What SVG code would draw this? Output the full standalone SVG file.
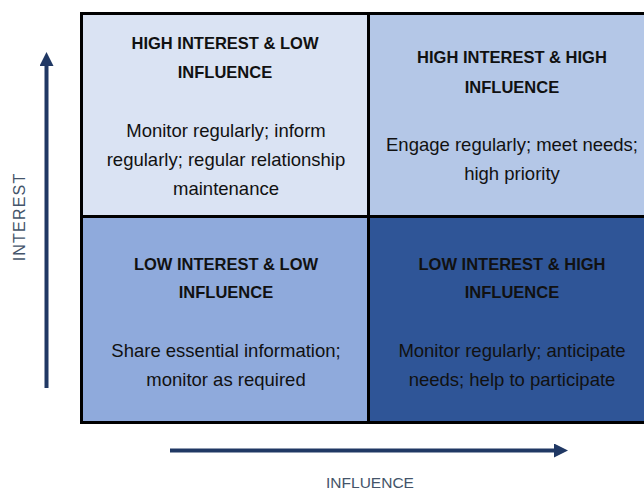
<svg xmlns="http://www.w3.org/2000/svg" width="644" height="491" viewBox="0 0 644 491">
<defs>
<style>
.cell{stroke:#000;stroke-width:3}
.h{font-family:"Liberation Sans",Arial,sans-serif;font-weight:bold;font-size:16.5px;fill:#111;text-anchor:middle}
.b{font-family:"Liberation Sans",Arial,sans-serif;font-size:18.5px;fill:#111;text-anchor:middle}
.ax{font-family:"Liberation Sans",Arial,sans-serif;fill:#44546a;text-anchor:middle}
.arr{stroke:#203864;stroke-width:4;fill:none}
</style>
<marker id="ah" viewBox="0 0 14 14" refX="2" refY="7" markerWidth="14" markerHeight="14" markerUnits="userSpaceOnUse" orient="auto">
<path d="M0,0 L14,7 L0,14 Z" fill="#203864"/>
</marker>
</defs>
<rect width="644" height="491" fill="#fff"/>
<g id="q-high-low">
<rect class="cell" x="81.5" y="13.5" width="287" height="203" fill="#dae3f3"/>
<text class="h" x="225" y="49">HIGH INTEREST &amp; LOW</text>
<text class="h" x="225" y="78">INFLUENCE</text>
<text class="b" x="226" y="137">Monitor regularly; inform</text>
<text class="b" x="226" y="166">regularly; regular relationship</text>
<text class="b" x="226" y="195">maintenance</text>
</g>
<g id="q-high-high">
<rect class="cell" x="368.5" y="13.5" width="290" height="203" fill="#b4c7e7"/>
<text class="h" x="512" y="63">HIGH INTEREST &amp; HIGH</text>
<text class="h" x="512" y="93">INFLUENCE</text>
<text class="b" x="512" y="151">Engage regularly; meet needs;</text>
<text class="b" x="512" y="180">high priority</text>
</g>
<g id="q-low-low">
<rect class="cell" x="81.5" y="216.5" width="287" height="206" fill="#8faadc"/>
<text class="h" x="226" y="270">LOW INTEREST &amp; LOW</text>
<text class="h" x="226" y="298">INFLUENCE</text>
<text class="b" x="226" y="357">Share essential information;</text>
<text class="b" x="226" y="386">monitor as required</text>
</g>
<g id="q-low-high">
<rect class="cell" x="368.5" y="216.5" width="290" height="206" fill="#2f5597"/>
<text class="h" x="512" y="270">LOW INTEREST &amp; HIGH</text>
<text class="h" x="512" y="298">INFLUENCE</text>
<text class="b" x="512" y="357">Monitor regularly; anticipate</text>
<text class="b" x="512" y="386">needs; help to participate</text>
</g>
<g id="connectors">
<line class="arr" x1="46.5" y1="388" x2="46.5" y2="64" marker-end="url(#ah)"/>
<line class="arr" x1="170" y1="450.5" x2="556" y2="450.5" marker-end="url(#ah)"/>
</g>
<g id="axis-labels">
<text class="ax" font-size="16px" letter-spacing="1.2" transform="translate(25,217) rotate(-90)">INTEREST</text>
<text class="ax" font-size="15.5px" x="370" y="488">INFLUENCE</text>
</g>
</svg>
